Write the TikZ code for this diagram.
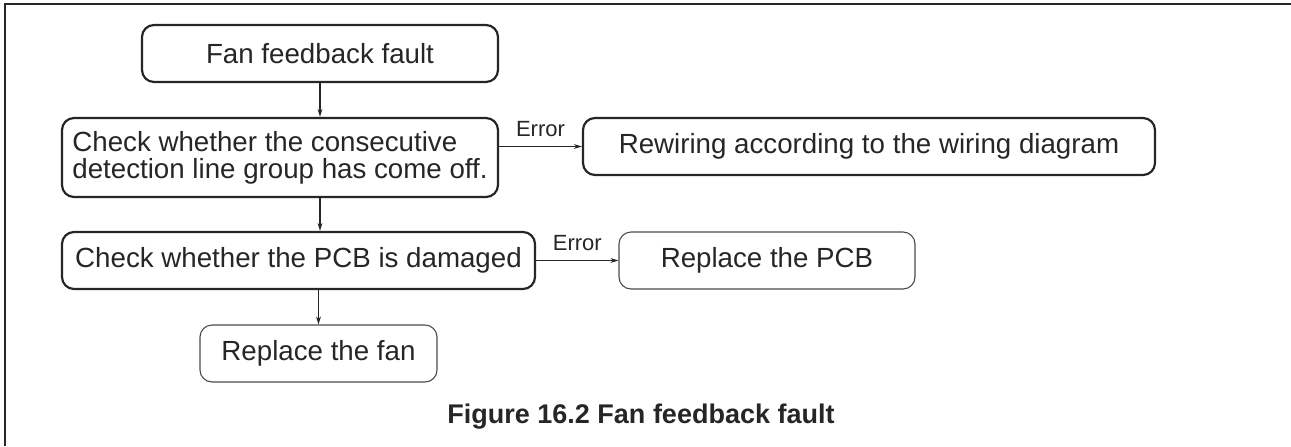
\documentclass[tikz,border=0pt]{standalone}
\usepackage{fontspec}
\setmainfont{Liberation Sans}
\usetikzlibrary{arrows.meta}

\begin{document}
\begin{tikzpicture}[x=0.5pt,y=-0.5pt,
  box/.style={draw=black!85,line width=1.1pt,rounded corners=6pt,inner sep=2pt,
    minimum height=28.5pt,text=black!85,font=\fontsize{13.85pt}{13.5pt}\selectfont},
  thinbox/.style={box,draw=black!70,line width=0.55pt},
  flow/.style={-{Stealth[length=4pt,width=2.4pt]},line width=0.7pt,draw=black!85},
  err/.style={font=\fontsize{11pt}{12pt}\selectfont,text=black!85,above=1pt}]
\useasboundingbox (0,0) rectangle (1291,446);
\draw[line width=1.4pt,black!85] (5,446) -- (5,4) -- (1291,4);
\node[box,minimum width=178pt] (fault) at (320,53.5) {Fan feedback fault};
\node[box,minimum width=218pt,minimum height=39.5pt,align=left] (wires) at (280,157.5) {Check whether the consecutive\\detection line group has come off.};
\node[box,minimum width=286pt] (rewire) at (869,146.5) {Rewiring according to the wiring diagram};
\node[box,minimum width=236.5pt] (pcb) at (298.5,260.5) {Check whether the PCB is damaged};
\node[thinbox,minimum width=148pt] (newpcb) at (767,260.5) {Replace the PCB};
\node[thinbox,minimum width=118.5pt] (newfan) at (318.5,353.5) {Replace the fan};
\node[font=\bfseries\fontsize{13.5pt}{16pt}\selectfont,text=black!85,anchor=base] (caption) at (641,423) {Figure 16.2 Fan feedback fault};
\draw[flow] (fault.south) -- (fault.south |- wires.north);
\draw[flow] (wires.south -| fault.south) -- (fault.south |- pcb.north);
\draw[flow] (pcb.south -| newfan.north) -- (newfan.north);
\draw[flow] (wires.east |- rewire.west) -- node[err] {Error} (rewire.west);
\draw[flow] (pcb.east) -- node[err] {Error} (newpcb.west);
\end{tikzpicture}
\end{document}
